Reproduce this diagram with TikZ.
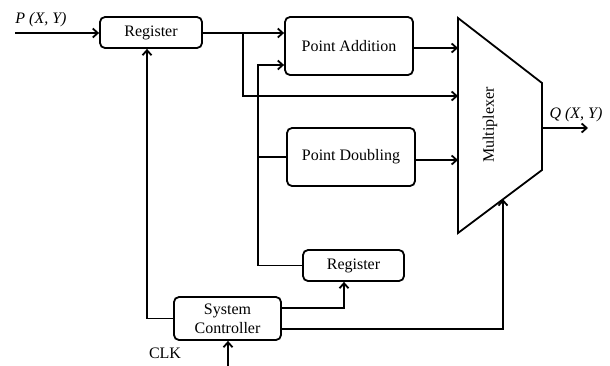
\documentclass[tikz,border=0pt]{standalone}
\usepackage{fontspec}
\setmainfont{Liberation Serif}
\usetikzlibrary{arrows.meta,calc}
\begin{document}
\begin{tikzpicture}[x=1pt,y=-1pt,
  blk/.style={draw,line width=1.8pt,rounded corners=5pt,align=center,inner sep=0pt,font=\fontsize{16}{19}\selectfont},
  wire/.style={line width=1.8pt},
  arr/.style={line width=1.8pt,-{Straight Barb[length=5pt,width=9pt]}},
  lbl/.style={font=\fontsize{16}{19}\selectfont,inner sep=0pt}]
\useasboundingbox (0,0) rectangle (610,365);
\node[blk,minimum width=102pt,minimum height=31pt] (reg1) at (151,32.5) {Register};
\node[blk,minimum width=128pt,minimum height=58pt] (pa) at (349,46) {Point Addition};
\node[blk,minimum width=128pt,minimum height=58pt] (pd) at (351,157) {Point Doubling};
\node[blk,minimum width=101pt,minimum height=31pt] (reg2) at (353.5,265.5) {Register};
\node[blk,minimum width=107pt,minimum height=43pt] (sc) at (227.5,318.5) {System\\Controller};
% multiplexer
\coordinate (m1) at (458,18);
\coordinate (m2) at (542,83);
\coordinate (m3) at (542,170);
\coordinate (m4) at (458,233);
\draw[wire,line join=miter] (m1) -- (m2) -- (m3) -- (m4) -- cycle;
\node[lbl,rotate=90] (muxl) at (490,125) {Multiplexer};
% input
\coordinate (pin) at (15,33);
\node[lbl,font=\fontsize{16}{19}\selectfont\itshape] (plbl) at (41,20) {P (X, Y)};
\draw[arr] (pin) -- (pin -| reg1.west);
% register to point addition and mux
\coordinate (b1) at (243,33);
\draw[arr] (reg1.east |- b1) -- (b1 -| pa.west);
\coordinate (min2) at (458,96);
\draw[arr] (b1) |- (min2);
% second register feedback
\coordinate (v2) at (258,65);
\draw[arr] (reg2.west) -| (v2) -- (v2 -| pa.west);
\draw[wire] (v2 |- pd.west) -- (pd.west);
% outputs to mux
\draw[arr] ([yshift=-2pt]pa.east) -- ([yshift=-2pt]pa.east -| m1);
\draw[arr] ([yshift=-3pt]pd.east) -- ([yshift=-3pt]pd.east -| m1);
% mux output
\coordinate (mout) at (542,128);
\coordinate (qend) at (588,128);
\draw[arr] (mout) -- (qend);
\node[lbl,font=\fontsize{16}{19}\selectfont\itshape] (qlbl) at (576,115) {Q (X, Y)};
% system controller connections
\draw[arr] (sc.west) -| ([xshift=-4pt]reg1.south);
\draw[arr] ([yshift=10.5pt]sc.east) -| ([xshift=-9.5pt]reg2.south);
\coordinate (msel) at ($(m4)!0.536!(m3)$);
\draw[arr] ([yshift=-10.5pt]sc.east) -| (msel);
% clock
\coordinate (clk) at (228,366);
\draw[arr] (clk) -- (clk |- sc.south);
\node[lbl] (clkl) at (165,353) {CLK};
\end{tikzpicture}
\end{document}
